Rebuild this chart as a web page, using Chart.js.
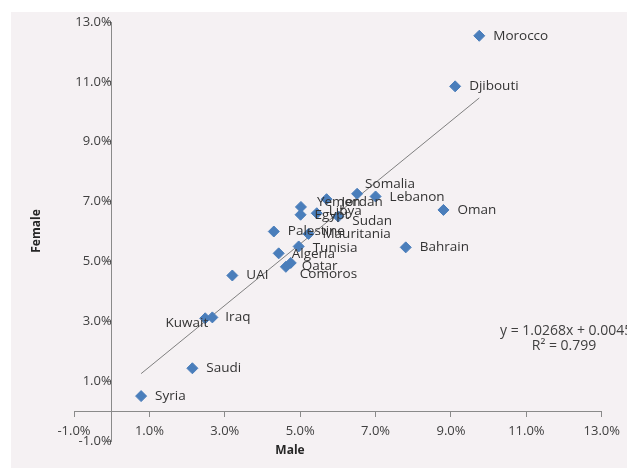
<!DOCTYPE html>
<html>
<head>
<meta charset="utf-8">
<script src="https://cdn.jsdelivr.net/npm/chart.js@4/dist/chart.umd.min.js"></script>
<style>
  body { margin: 0; background: #ffffff; }
  canvas { display: block; }
</style>
</head>
<body>
<canvas id="chart" width="627" height="468"></canvas>
<script>
// data (percent)
const countries = ["Morocco", "Djibouti", "Oman", "Bahrain", "Lebanon", "Somalia", "Jordan", "Yemen",
  "Egypt", "Libya", "Sudan", "Mauritania", "Palestine", "Tunisia", "Algeria", "Qatar", "Comoros",
  "UAI", "Kuwait", "Iraq", "Saudi", "Syria"];
const male = [9.75, 9.11, 8.80, 7.80, 7.00, 6.51, 5.70, 5.02,
  5.01, 5.44, 6.01, 5.22, 4.30, 4.96, 4.43, 4.75, 4.62,
  3.20, 2.48, 2.67, 2.14, 0.78];
const female = [12.54, 10.85, 6.72, 5.47, 7.17, 7.26, 7.08, 6.82,
  6.56, 6.61, 6.50, 5.92, 6.00, 5.50, 5.27, 4.95, 4.82,
  4.53, 3.10, 3.13, 1.43, 0.50];

// trend line as printed on the chart
const SLOPE = 1.0268;
const INTERCEPT = 0.0045;
const R2 = 0.799;

const axisTicks = { min: -1, max: 13, step: 2 };

// label placement (offset from the marker, pixels)
const nudge = {
  Somalia: { dx: 8, dy: -10 },
  Lebanon: { dy: 1 },
  Jordan: { dx: 15, dy: 3 },
  Yemen: { dx: 16, dy: -5 },
  Libya: { dx: 12, dy: -2 },
  Sudan: { dy: 5 },
  Tunisia: { dy: 2 },
  Algeria: { dx: 13, dy: 1 },
  Qatar: { dx: 11, dy: 3 },
  Comoros: { dy: 7 },
  Kuwait: { dx: 3, dy: 5, align: "right" },
  Iraq: { dx: 13 }
};

const FONT = "'Open Sans', 'DejaVu Sans', sans-serif";
const TEXT = "#404040";
const AXIS = "#8a8a8a";

const points = countries.map((c, i) => ({ x: male[i], y: female[i] }));
const xLo = Math.min(...male), xHi = Math.max(...male);
const trend = [
  { x: xLo, y: SLOPE * xLo + INTERCEPT * 100 },
  { x: xHi, y: SLOPE * xHi + INTERCEPT * 100 }
];

const background = {
  id: "background",
  beforeDraw(chart) {
    const ctx = chart.ctx;
    ctx.save();
    ctx.fillStyle = "#ffffff";
    ctx.fillRect(0, 0, chart.width, chart.height);
    ctx.fillStyle = "#f5f1f3";
    ctx.fillRect(11, 12, chart.width - 11, chart.height - 12);
    ctx.restore();
  }
};

const labels = {
  id: "labels",
  afterDatasetsDraw(chart) {
    const ctx = chart.ctx;
    const meta = chart.getDatasetMeta(1);
    ctx.save();
    ctx.font = "13.5px " + FONT;
    ctx.fillStyle = "#333333";
    ctx.textBaseline = "middle";
    meta.data.forEach((pt, i) => {
      const n = nudge[countries[i]] || {};
      ctx.textAlign = n.align || "left";
      ctx.fillText(countries[i], pt.x + (n.dx !== undefined ? n.dx : 14), pt.y + (n.dy || 0));
    });

    // regression text
    const xs = chart.scales.x, ys = chart.scales.y;
    ctx.font = "14px " + FONT;
    ctx.fillStyle = TEXT;
    ctx.textAlign = "left";
    ctx.fillText("y = " + SLOPE + "x + " + INTERCEPT, xs.getPixelForValue(10.3), ys.getPixelForValue(2.68));
    ctx.textAlign = "center";
    ctx.fillText("R\u00b2 = " + R2, xs.getPixelForValue(12.0), ys.getPixelForValue(2.17));

    // axis titles
    ctx.font = "bold 12px " + FONT;
    ctx.fillStyle = "#262626";
    ctx.fillText("Male", 290, 451);
    ctx.translate(37, 231);
    ctx.rotate(-Math.PI / 2);
    ctx.fillText("Female", 0, 0);
    ctx.restore();
  }
};

const tickFmt = (v) => v.toFixed(1) + "%";

new Chart(document.getElementById("chart"), {
  type: "scatter",
  data: {
    datasets: [
      {
        type: "line",
        data: trend,
        borderColor: "#808080",
        borderWidth: 1,
        pointRadius: 0,
        fill: false,
        order: 2
      },
      {
        data: points,
        pointStyle: "rectRot",
        pointRadius: 5.5,
        backgroundColor: "#4a7ebb",
        borderColor: "#4a7ebb",
        borderWidth: 1,
        order: 1
      }
    ]
  },
  options: {
    responsive: false,
    animation: false,
    events: [],
    layout: { padding: { left: 74, top: 22, right: 20, bottom: 27 } },
    plugins: { legend: { display: false }, tooltip: { enabled: false } },
    scales: {
      x: {
        type: "linear",
        position: { y: 0 },
        min: axisTicks.min,
        max: axisTicks.max,
        afterFit: (s) => { s.height = 0; },
        ticks: { stepSize: axisTicks.step, callback: tickFmt, autoSkip: false, maxRotation: 0,
          padding: 7, color: TEXT, font: { family: FONT, size: 13 } },
        grid: { drawOnChartArea: false, tickLength: 5, color: AXIS },
        border: { color: AXIS, width: 1 }
      },
      y: {
        type: "linear",
        position: { x: 0 },
        min: axisTicks.min,
        max: axisTicks.max,
        afterFit: (s) => { s.width = 0; },
        ticks: { stepSize: axisTicks.step, callback: tickFmt, autoSkip: false,
          padding: 9, color: TEXT, font: { family: FONT, size: 13 } },
        grid: { drawOnChartArea: false, tickLength: 5, color: AXIS },
        border: { color: AXIS, width: 1 }
      }
    }
  },
  plugins: [background, labels]
});
</script>
</body>
</html>
